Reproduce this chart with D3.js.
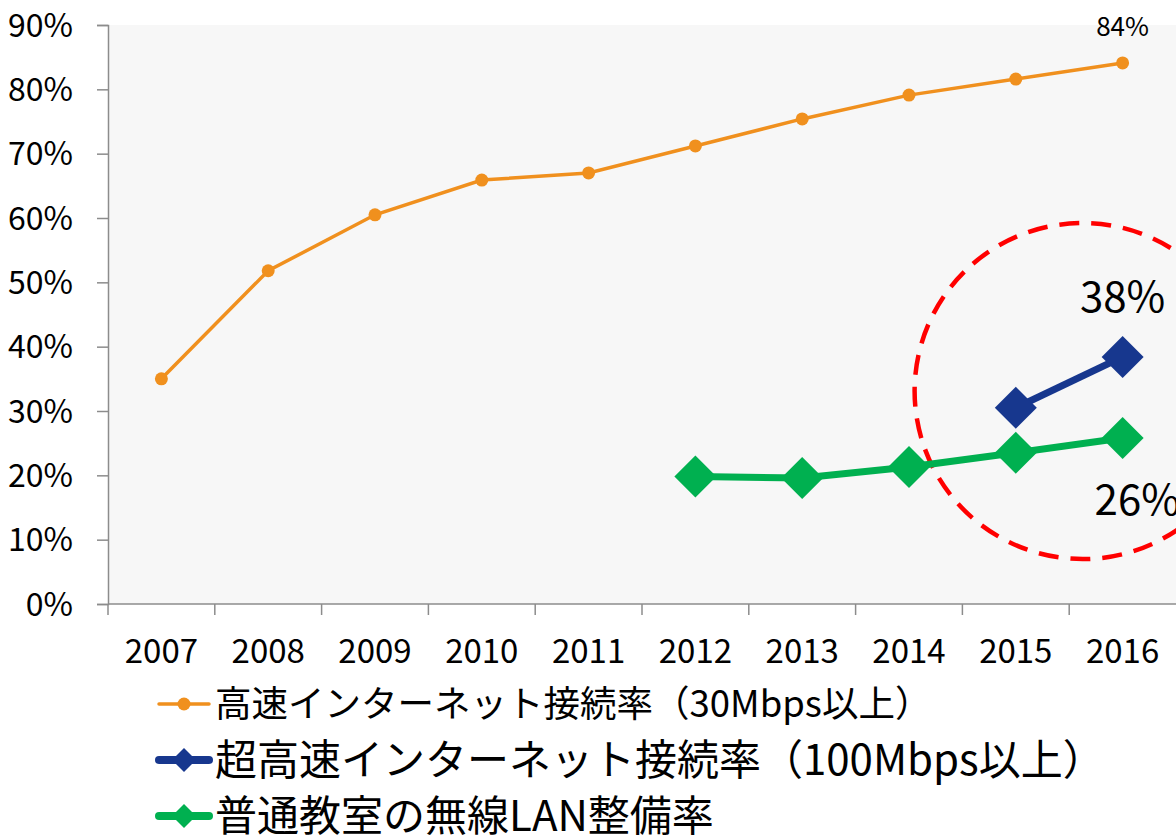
<!DOCTYPE html>
<html>
<head>
<meta charset="utf-8">
<script src="https://cdn.jsdelivr.net/npm/d3@7"></script>
<style>
  html, body { margin: 0; padding: 0; background: #ffffff; }
  svg { display: block; font-family: "Noto Sans CJK JP", "Noto Sans", sans-serif; }
</style>
</head>
<body>
<svg id="chart" width="1176" height="840"></svg>
<script>
// School network readiness in Japan, 2007–2016
const years = ["2007", "2008", "2009", "2010", "2011", "2012", "2013", "2014", "2015", "2016"];
const highSpeed = [0.350, 0.518, 0.605, 0.659, 0.670, 0.712, 0.754, 0.791, 0.816, 0.841];
const ultraHighSpeed = [null, null, null, null, null, null, null, null, 0.305, 0.384];
const classroomWifi = [null, null, null, null, null, 0.198, 0.196, 0.213, 0.235, 0.258];
const yTicks = [0, 0.1, 0.2, 0.3, 0.4, 0.5, 0.6, 0.7, 0.8, 0.9];
const seriesNames = [
  "高速インターネット接続率（30Mbps以上）",
  "超高速インターネット接続率（100Mbps以上）",
  "普通教室の無線LAN整備率"
];

const svg = d3.select("#chart");
const plot = { left: 108, right: 1176, top: 25, bottom: 604 };

const x = d3.scaleBand().domain(years).range([plot.left, plot.right]).padding(0);
const y = d3.scaleLinear().domain([0, 0.9]).range([plot.bottom, plot.top]);
const cx = d => x(d) + x.bandwidth() / 2;

// plot background
svg.append("rect")
  .attr("x", plot.left).attr("y", plot.top)
  .attr("width", plot.right - plot.left).attr("height", plot.bottom - plot.top)
  .attr("fill", "#f7f7f7");

const axisColor = "#8c8c8c";
const tickFont = 32;

// y axis
const yAxis = svg.append("g")
  .attr("transform", `translate(${plot.left},0)`)
  .call(d3.axisLeft(y).tickValues(yTicks).tickFormat(d3.format(".0%")).tickSizeOuter(0).tickSize(11).tickPadding(24));
yAxis.select(".domain").attr("stroke", axisColor).attr("stroke-width", 1.5);
yAxis.selectAll(".tick line").attr("stroke", axisColor).attr("stroke-width", 1.5);
yAxis.selectAll(".tick text").attr("fill", "#000").style("font-size", tickFont + "px")
  .style("font-family", "'Noto Sans CJK JP', sans-serif").attr("dy", "0.35em");

// x axis with ticks on band boundaries
const xAxisG = svg.append("g").attr("transform", `translate(0,${plot.bottom})`);
xAxisG.append("line")
  .attr("x1", plot.left).attr("x2", plot.right)
  .attr("y1", 0).attr("y2", 0)
  .attr("stroke", axisColor).attr("stroke-width", 1.5);
xAxisG.selectAll("line.tk")
  .data(years)
  .join("line")
  .attr("class", "tk")
  .attr("x1", d => x(d)).attr("x2", d => x(d))
  .attr("y1", 0).attr("y2", 11)
  .attr("stroke", axisColor).attr("stroke-width", 1.5);
xAxisG.selectAll("text")
  .data(years)
  .join("text")
  .attr("x", d => cx(d))
  .attr("y", 59)
  .attr("text-anchor", "middle")
  .style("font-size", "33px")
  .attr("fill", "#000")
  .text(d => d);

const orange = "#f0901e";
const blue = "#17378e";
const green = "#00b050";

const line = d3.line()
  .defined(d => d.v != null)
  .x(d => cx(d.year))
  .y(d => y(d.v));

const toPoints = vals => years.map((yr, i) => ({ year: yr, v: vals[i] }));
const diamond = r => `M0,${-r}L${r},0L0,${r}L${-r},0Z`;

// highlight ring around recent years
const ringCenterX = cx("2016") - 40;
const ringCenterY = y(0.331);
const ringRadius = 168;
svg.append("circle")
  .attr("cx", ringCenterX).attr("cy", ringCenterY).attr("r", ringRadius)
  .attr("fill", "none").attr("stroke", "#ff0000").attr("stroke-width", 4.5)
  .attr("stroke-dasharray", "20,12");

// high-speed connection rate
svg.append("path")
  .datum(toPoints(highSpeed))
  .attr("d", line)
  .attr("fill", "none").attr("stroke", orange).attr("stroke-width", 3.5);
svg.selectAll("circle.hs")
  .data(toPoints(highSpeed))
  .join("circle")
  .attr("class", "hs")
  .attr("cx", d => cx(d.year)).attr("cy", d => y(d.v))
  .attr("r", 6.5).attr("fill", orange);

// classroom wireless LAN rate
svg.append("path")
  .datum(toPoints(classroomWifi))
  .attr("d", line)
  .attr("fill", "none").attr("stroke", green).attr("stroke-width", 7);
svg.selectAll("path.wl")
  .data(toPoints(classroomWifi).filter(d => d.v != null))
  .join("path")
  .attr("class", "wl")
  .attr("transform", d => `translate(${cx(d.year)},${y(d.v)})`)
  .attr("d", diamond(21))
  .attr("fill", green);

// ultra-high-speed connection rate
svg.append("path")
  .datum(toPoints(ultraHighSpeed))
  .attr("d", line)
  .attr("fill", "none").attr("stroke", blue).attr("stroke-width", 7);
svg.selectAll("path.uh")
  .data(toPoints(ultraHighSpeed).filter(d => d.v != null))
  .join("path")
  .attr("class", "uh")
  .attr("transform", d => `translate(${cx(d.year)},${y(d.v)})`)
  .attr("d", diamond(21))
  .attr("fill", blue);

// value labels for the latest year
const last = years.length - 1;
const pct = d3.format(".0%");
svg.append("text")
  .attr("x", cx(years[last])).attr("y", y(highSpeed[last]) - 27)
  .attr("text-anchor", "middle").style("font-size", "26px").attr("fill", "#000")
  .text(pct(highSpeed[last]));
svg.append("text")
  .attr("x", cx(years[last])).attr("y", y(ultraHighSpeed[last]) - 45)
  .attr("text-anchor", "middle").style("font-size", "42px").attr("fill", "#000")
  .text(pct(ultraHighSpeed[last]));
svg.append("text")
  .attr("x", cx(years[last]) - 28).attr("y", y(classroomWifi[last]) + 77)
  .attr("text-anchor", "start").style("font-size", "42px").attr("fill", "#000")
  .text(pct(classroomWifi[last]));

// legend
const legendItems = [
  { name: seriesNames[0], color: orange, marker: "circle", y: 704, width: 3.5, font: 36.5 },
  { name: seriesNames[1], color: blue, marker: "diamond", y: 760, width: 8, font: 42 },
  { name: seriesNames[2], color: green, marker: "diamond", y: 816, width: 8, font: 42 }
];
const legend = svg.append("g");
legendItems.forEach(item => {
  const g = legend.append("g").attr("transform", `translate(0,${item.y})`);
  g.append("line")
    .attr("x1", 159).attr("x2", 209).attr("y1", 0).attr("y2", 0)
    .attr("stroke", item.color).attr("stroke-width", item.width).attr("stroke-linecap", "round");
  if (item.marker === "circle") {
    g.append("circle").attr("cx", 184).attr("cy", 0).attr("r", 6.5).attr("fill", item.color);
  } else {
    g.append("path").attr("transform", "translate(184,0)").attr("d", diamond(12)).attr("fill", item.color);
  }
  g.append("text")
    .attr("x", 215).attr("y", 0).attr("dy", "0.36em")
    .style("font-size", item.font + "px").attr("fill", "#000")
    .text(item.name);
});
</script>
</body>
</html>
